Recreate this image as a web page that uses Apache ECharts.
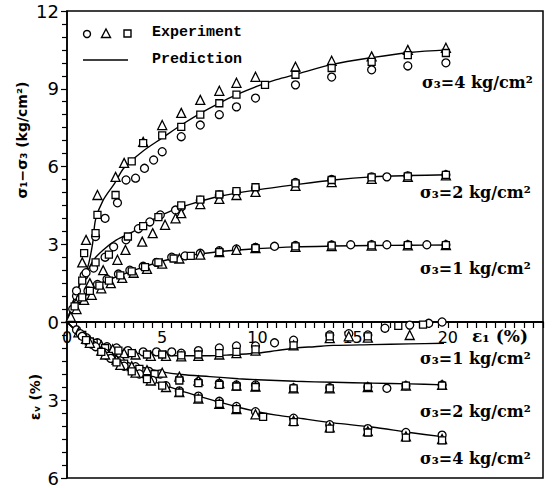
<!DOCTYPE html>
<html><head><meta charset="utf-8">
<script src="https://cdn.jsdelivr.net/npm/echarts@6/dist/echarts.min.js"></script>
<style>html,body{margin:0;padding:0;background:#fff}#c{width:552px;height:488px}</style>
</head><body><div id="c"></div>
<script>
// ---------- DATA ----------
const xTickLabels = [0, 5, 10, 15, 20];
const upperTicks = [0, 3, 6, 9, 12];
const lowerTicks = [3, 6];

// Prediction curves, deviator stress (kg/cm2) vs axial strain (%)
const predQ4_e = [0,0.35,0.7,1.1,1.35,1.5,1.9,2.5,3,4,5,6,7,8,9,10,11,12,14,16,18,20];
const predQ4_q = [0,0.85,1.5,2.15,3.05,3.95,4.7,5.35,5.95,6.6,7.1,7.6,8.05,8.45,8.8,9.1,9.35,9.55,9.95,10.2,10.4,10.5];
const predQ2_e = [0,0.35,0.7,1.1,1.4,1.9,2.6,3.5,4.5,5.5,6.5,8,10,12,14,16,18,20];
const predQ2_q = [0,0.85,1.5,2.0,2.4,2.78,3.17,3.5,3.95,4.3,4.55,4.85,5.1,5.3,5.48,5.6,5.65,5.68];
const predQ1_e = [0,0.5,1.1,1.8,2.8,4,5.4,7,8.5,10,12,14,16,18,20];
const predQ1_q = [0,0.73,1.1,1.5,1.8,2.12,2.42,2.63,2.75,2.83,2.9,2.93,2.95,2.96,2.97];

// Prediction curves, volumetric strain (%) vs axial strain (%)
const predV1_e = [0,0.5,1,1.5,2.2,3.2,4.2,5,6,7.5,8.5,10,11,12,13,14,16,18,19.8];
const predV1_v = [0,0.35,0.6,0.8,1.0,1.15,1.25,1.28,1.3,1.3,1.27,1.2,1.1,1.0,0.95,0.9,0.87,0.84,0.82];
const predV2_e = [0,0.5,1,1.5,2.2,3.2,4,5,6,7.5,9,10,12,14,16,18,19.8];
const predV2_v = [0,0.35,0.6,0.85,1.15,1.55,1.75,1.92,2.02,2.1,2.18,2.22,2.28,2.32,2.35,2.38,2.42];
const predV4_e = [0,0.5,1,1.5,2.2,3.2,4,5,6,7,8,9,10,11,12,14,16,18,19.8];
const predV4_v = [0,0.35,0.62,0.9,1.3,1.85,2.15,2.4,2.65,2.87,3.08,3.28,3.45,3.58,3.68,3.88,4.04,4.25,4.42];

// Experiment, deviator stress
const circQ4_e = [0.5,0.9,1.5,2.0,2.65,3.1,3.6,4.07,4.55,5.0,6.0,7.0,8.0,8.9,9.9,12,13.9,16,17.9,19.9];
const circQ4_q = [1.0,1.8,3.3,4.0,4.6,5.48,5.55,5.93,6.25,6.57,7.15,7.6,8.0,8.3,8.64,9.15,9.45,9.73,9.88,10.0];
const triQ4_e = [0.8,1.0,1.6,2.55,3.0,4.0,5.0,6.0,7.0,8.0,8.9,9.9,12,13.9,16,17.9,19.9];
const triQ4_q = [2.3,3.17,4.9,5.6,6.14,6.95,7.6,8.07,8.57,8.92,9.23,9.46,9.85,10.08,10.25,10.5,10.58];
const sqQ4_e = [0.9,1.5,1.6,2.55,3.4,4.0,5.0,6.0,7.0,8.0,8.9,10.4,12,13.9,16,17.9,19.9];
const sqQ4_q = [2.66,3.43,4.13,4.9,6.2,6.9,7.2,7.53,8.0,8.44,8.77,9.15,9.54,9.8,10.04,10.3,10.38];

const circQ2_e = [0.5,1.0,1.4,2.0,2.45,3.1,3.75,4.35,4.9,5.7,6.0,7.0,8.0,8.9,9.9,12,13.9,16,16.8,17.9,19.9];
const circQ2_q = [1.2,1.9,2.08,2.5,2.9,3.17,3.6,3.86,4.13,4.32,4.44,4.7,4.9,5.02,5.17,5.38,5.5,5.6,5.6,5.64,5.68];
const triQ2_e = [0.6,1.2,1.9,2.65,3.07,3.95,4.5,5.15,5.7,6.0,7.0,8.0,8.9,9.9,12,13.9,16,17.9,19.9];
const triQ2_q = [0.9,1.5,2.0,2.4,2.78,3.1,3.43,3.75,4.0,4.2,4.55,4.75,4.9,5.02,5.25,5.4,5.52,5.6,5.66];
const sqQ2_e = [0.8,1.5,2.2,3.2,4.0,4.8,6.0,7.0,8.0,8.9,9.9,12,13.9,16,17.9,19.9];
const sqQ2_q = [1.6,2.3,2.6,3.3,3.7,4.05,4.5,4.72,4.92,5.05,5.2,5.35,5.48,5.58,5.62,5.68];

const circQ1_e = [0.3,0.7,1.1,1.6,2.1,2.7,3.3,4,4.7,5.5,6.2,7,8,8.9,9.9,10.9,12,13.9,14.9,16,16.8,17.9,18.9,19.9];
const circQ1_q = [0.5,0.9,1.2,1.45,1.65,1.85,2.0,2.15,2.3,2.5,2.55,2.65,2.75,2.82,2.88,2.92,2.95,2.97,2.98,2.98,2.98,2.98,2.98,2.98];
const triQ1_e = [0.2,0.5,0.9,1.3,1.8,2.3,2.9,3.5,4.2,5,5.9,7,8,8.9,9.9,12,13.9,16,17.9,19.9];
const triQ1_q = [0.2,0.5,0.85,1.05,1.3,1.5,1.7,1.9,2.05,2.25,2.45,2.6,2.7,2.78,2.85,2.9,2.93,2.95,2.96,2.97];
const sqQ1_e = [0.4,0.8,1.2,1.7,2.2,2.8,3.4,4.1,4.8,5.6,6.5,8,9.9,12,13.9,16,17.9,19.9];
const sqQ1_q = [0.6,0.95,1.2,1.4,1.6,1.8,1.95,2.12,2.3,2.45,2.55,2.7,2.85,2.92,2.95,2.96,2.97,2.97];

// Experiment, volumetric strain
const circV1_e = [0.5,1.0,1.6,2.1,2.6,3.2,4.0,4.7,5.5,6.0,6.9,8.0,8.9,9.9,10.9,11.9,13.8,14.8,15.8,16.7,18,19,19.7];
const circV1_v = [0.3,0.6,0.8,0.95,1.0,1.1,1.15,1.15,1.15,1.2,1.1,1.0,0.92,0.92,0.8,0.7,0.5,0.45,0.5,0.24,0.12,0.05,0.0];
const triV1_e = [0.6,1.2,1.8,2.4,3.0,3.6,4.4,5.2,6.0,6.9,8,8.9,9.9,11.9,13.8,14.8,15.8,18];
const triV1_v = [0.4,0.7,0.9,1.05,1.2,1.25,1.3,1.3,1.32,1.3,1.25,1.2,1.1,0.9,0.62,0.55,0.6,0.5];
const sqV1_e = [0.8,1.4,2.0,2.7,3.4,4.2,5.0,6.0,6.9,8.0,8.9,9.9,11.9,13.8,15.8,17.4,18.7];
const sqV1_v = [0.5,0.8,1.0,1.1,1.2,1.25,1.25,1.28,1.25,1.2,1.15,1.05,0.9,0.55,0.55,0.15,0.1];

const circV2_e = [0.7,1.3,2.0,2.8,3.6,4.3,4.9,5.9,6.9,8.0,8.9,9.9,11.9,13.8,15.8,16.8,17.8,19.7];
const circV2_v = [0.45,0.85,1.2,1.5,1.72,1.9,2.0,2.2,2.3,2.36,2.42,2.42,2.54,2.53,2.5,2.55,2.45,2.42];
const triV2_e = [1.0,1.8,2.6,3.4,4.2,5.0,5.9,6.9,8.0,8.9,9.9,11.9,13.8,15.8,17.8,19.7];
const triV2_v = [0.65,1.1,1.45,1.7,1.85,1.95,2.1,2.25,2.35,2.45,2.48,2.55,2.55,2.5,2.45,2.42];
const sqV2_e = [1.2,2.2,3.0,3.8,4.6,5.9,6.9,8.0,8.9,9.9,11.9,13.8,15.8,17.8,19.7];
const sqV2_v = [0.75,1.3,1.6,1.8,2.0,2.25,2.35,2.42,2.48,2.5,2.55,2.55,2.5,2.45,2.45];

const circV4_e = [0.8,1.5,2.3,3.0,3.8,4.5,5.2,5.9,6.9,8.0,8.9,9.9,11.9,13.8,15.8,17.8,19.7];
const circV4_v = [0.55,0.95,1.4,1.7,2.0,2.25,2.45,2.65,2.85,3.05,3.25,3.45,3.7,3.95,4.1,4.25,4.35];
const triV4_e = [1.2,2.0,2.8,3.6,4.4,5.2,5.9,6.9,8.0,8.9,9.9,11.9,13.8,15.8,17.8,19.7];
const triV4_v = [0.8,1.25,1.65,1.95,2.25,2.5,2.7,2.95,3.15,3.35,3.55,3.8,4.05,4.2,4.4,4.5];
const sqV4_e = [1.0,1.8,2.6,3.4,4.2,5.0,5.9,6.9,8.0,8.9,10.3,11.9,13.8,15.8,17.8,19.7];
const sqV4_v = [0.7,1.15,1.55,1.9,2.2,2.45,2.72,2.95,3.15,3.35,3.65,3.85,4.1,4.25,4.45,4.55];

// ---------- CHART ----------
const zip = (a, b) => a.map((x, i) => [x, b[i]]);
const chart = echarts.init(document.getElementById('c'), null, {renderer: 'svg'});
const BLACK = '#000';
const numFont = 'DejaVu Sans';

function line(g, e, v) {
  return {type: 'line', xAxisIndex: g, yAxisIndex: g, data: zip(e, v), symbol: 'none', smooth: 0.3,
    lineStyle: {color: BLACK, width: 1.4}, z: 2, silent: true};
}
function pts(g, e, v, sym) {
  const size = sym === 'triangle' ? 9 : (sym === 'rect' ? 7 : 8);
  return {type: 'scatter', xAxisIndex: g, yAxisIndex: g, data: zip(e, v), symbol: sym, symbolSize: size,
    itemStyle: {color: '#fff', borderColor: BLACK, borderWidth: 1.3, opacity: 1}, z: 3, silent: true};
}

const annoFont = 'bold 16px "DejaVu Serif"';
function anno(x, y, txt) {
  return {type: 'text', left: x, top: y, style: {text: txt, font: annoFont, fill: BLACK}};
}

chart.setOption({
  animation: false,
  backgroundColor: '#fff',
  grid: [
    {left: 67, top: 11, width: 476, height: 311, show: true, borderColor: BLACK, borderWidth: 1.5, backgroundColor: 'transparent'},
    {left: 67, top: 322, width: 476, height: 156, show: true, borderColor: BLACK, borderWidth: 1.5, backgroundColor: 'transparent'}
  ],
  xAxis: [
    {gridIndex: 0, type: 'value', min: 0, max: 25, interval: 5, position: 'bottom',
     axisLine: {show: true, onZero: false, lineStyle: {color: BLACK, width: 1.5}},
     axisTick: {show: true, inside: false, length: 6, lineStyle: {color: BLACK, width: 1.2}},
     minorTick: {show: true, splitNumber: 10, length: 6, lineStyle: {color: BLACK, width: 1.2}},
     splitLine: {show: false}, minorSplitLine: {show: false},
     axisLabel: {show: true, margin: 7, fontSize: 16, fontFamily: numFont, color: BLACK,
       showMinLabel: true, showMaxLabel: true,
       formatter: v => xTickLabels.includes(v) ? String(v) : ''}},
    {gridIndex: 1, type: 'value', min: 0, max: 25, show: false}
  ],
  yAxis: [
    {gridIndex: 0, type: 'value', min: 0, max: 12, interval: 3,
     axisLine: {show: true, lineStyle: {color: BLACK, width: 1.5}},
     axisTick: {show: true, inside: false, length: 6, lineStyle: {color: BLACK, width: 1.2}},
     minorTick: {show: true, splitNumber: 6, length: 5, lineStyle: {color: BLACK, width: 1.2}},
     splitLine: {show: false},
     axisLabel: {margin: 8, fontSize: 18, fontFamily: numFont, color: BLACK, showMinLabel: true, showMaxLabel: true,
       formatter: v => upperTicks.includes(v) ? String(v) : ''}},
    {gridIndex: 1, type: 'value', min: 0, max: 6, interval: 3, inverse: true,
     axisLine: {show: true, lineStyle: {color: BLACK, width: 1.5}},
     axisTick: {show: true, inside: false, length: 6, lineStyle: {color: BLACK, width: 1.2}},
     minorTick: {show: true, splitNumber: 6, length: 5, lineStyle: {color: BLACK, width: 1.2}},
     splitLine: {show: false},
     axisLabel: {margin: 8, fontSize: 18, fontFamily: numFont, color: BLACK, showMinLabel: true, showMaxLabel: true,
       formatter: v => lowerTicks.includes(v) ? String(v) : ''}}
  ],
  series: [
    line(0, predQ4_e, predQ4_q), line(0, predQ2_e, predQ2_q), line(0, predQ1_e, predQ1_q),
    line(1, predV1_e, predV1_v), line(1, predV2_e, predV2_v), line(1, predV4_e, predV4_v),
    pts(0, circQ4_e, circQ4_q, 'circle'), pts(0, triQ4_e, triQ4_q, 'triangle'), pts(0, sqQ4_e, sqQ4_q, 'rect'),
    pts(0, circQ2_e, circQ2_q, 'circle'), pts(0, triQ2_e, triQ2_q, 'triangle'), pts(0, sqQ2_e, sqQ2_q, 'rect'),
    pts(0, circQ1_e, circQ1_q, 'circle'), pts(0, triQ1_e, triQ1_q, 'triangle'), pts(0, sqQ1_e, sqQ1_q, 'rect'),
    pts(1, circV1_e, circV1_v, 'circle'), pts(1, triV1_e, triV1_v, 'triangle'), pts(1, sqV1_e, sqV1_v, 'rect'),
    pts(1, circV2_e, circV2_v, 'circle'), pts(1, triV2_e, triV2_v, 'triangle'), pts(1, sqV2_e, sqV2_v, 'rect'),
    pts(1, circV4_e, circV4_v, 'circle'), pts(1, triV4_e, triV4_v, 'triangle'), pts(1, sqV4_e, sqV4_v, 'rect')
  ],
  graphic: [
    // legend
    {type: 'circle', shape: {cx: 87, cy: 34, r: 3.5}, style: {fill: '#fff', stroke: BLACK, lineWidth: 1.4}, z: 10},
    {type: 'polygon', shape: {points: [[106, 29], [110.5, 37.5], [101.5, 37.5]]}, style: {fill: '#fff', stroke: BLACK, lineWidth: 1.4}, z: 10},
    {type: 'rect', shape: {x: 124, y: 30, width: 7, height: 7}, style: {fill: '#fff', stroke: BLACK, lineWidth: 1.4}, z: 10},
    {type: 'text', left: 152, top: 25, style: {text: 'Experiment', font: 'bold 15px "Liberation Mono"', fill: BLACK}, z: 10},
    {type: 'line', shape: {x1: 83, y1: 60, x2: 128, y2: 60}, style: {stroke: BLACK, lineWidth: 1.4}, z: 10},
    {type: 'text', left: 152, top: 52, style: {text: 'Prediction', font: 'bold 15px "Liberation Mono"', fill: BLACK}, z: 10},
    // axis titles
    {type: 'text', x: 22, y: 140, rotation: Math.PI / 2,
     style: {text: 'σ₁−σ₃ (kg/cm²)', font: 'bold 14px "DejaVu Sans"', fill: BLACK, align: 'center', verticalAlign: 'middle'}},
    {type: 'text', x: 35, y: 397, rotation: Math.PI / 2,
     style: {text: 'εᵥ (%)', font: 'bold 14px "DejaVu Sans"', fill: BLACK, align: 'center', verticalAlign: 'middle'}},
    {type: 'text', left: 472, top: 327, style: {text: 'ε₁ (%)', font: 'bold 17px "DejaVu Serif"', fill: BLACK}},
    // curve annotations
    anno(422, 74, 'σ₃=4 kg/cm²'),
    anno(420, 184, 'σ₃=2 kg/cm²'),
    anno(420, 260, 'σ₃=1 kg/cm²'),
    anno(420, 350, 'σ₃=1 kg/cm²'),
    anno(420, 403, 'σ₃=2 kg/cm²'),
    anno(420, 450, 'σ₃=4 kg/cm²')
  ]
});
</script></body></html>
